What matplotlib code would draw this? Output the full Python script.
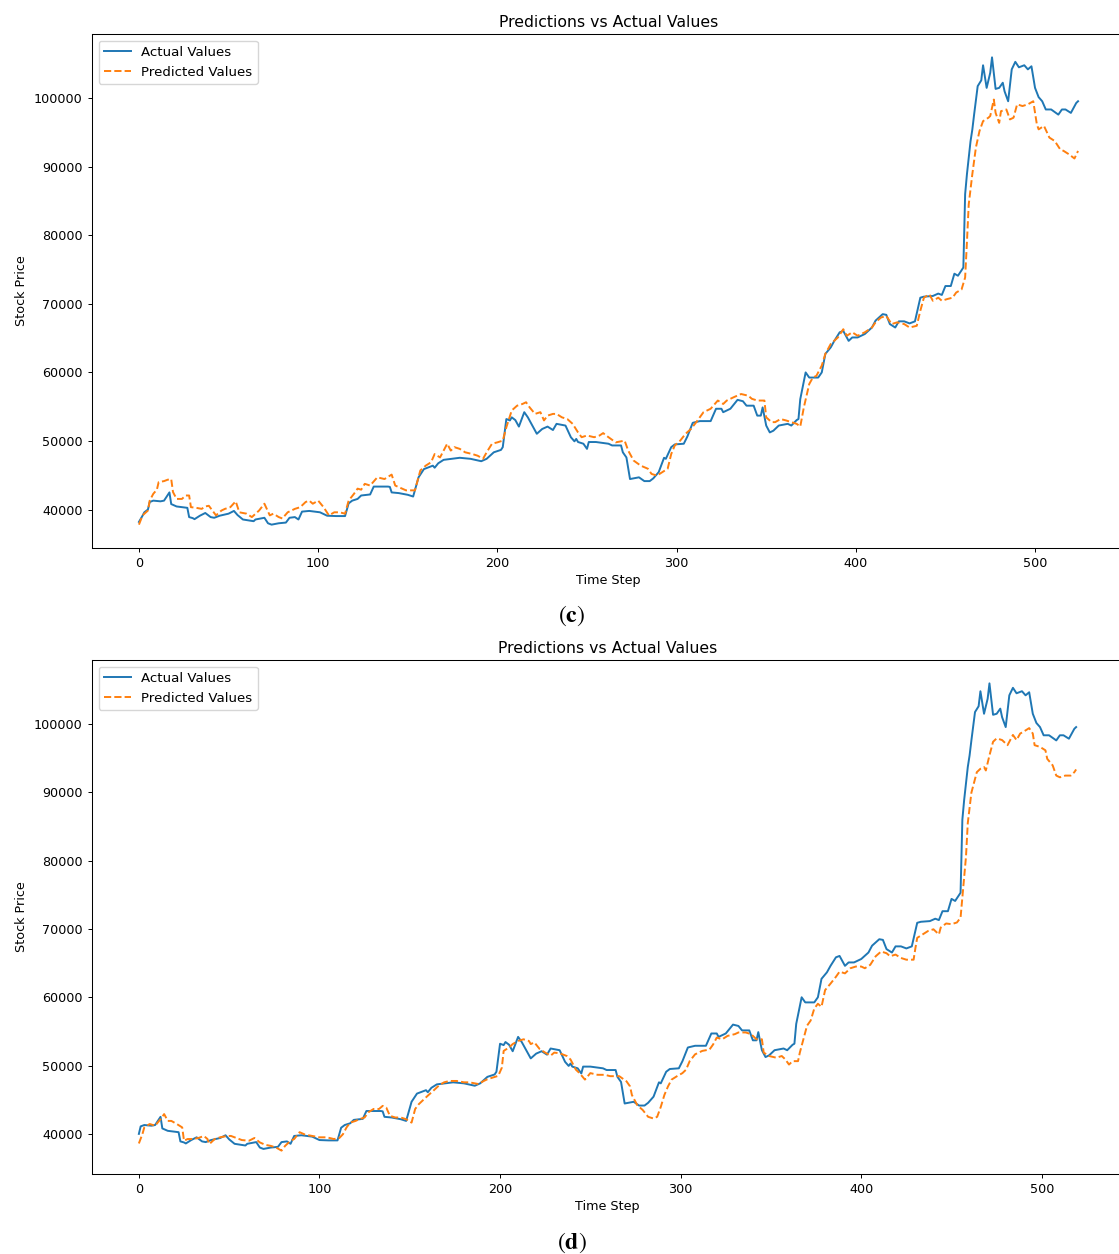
import numpy as np
import matplotlib
matplotlib.use("Agg")
import matplotlib.pyplot as plt

# ---- data -------------------------------------------------------------
# Actual closing prices (time step, price) for the longer test window (c)
actual_points = [
    (0, 38200), (2, 39100), (3, 39600), (5, 40000), (6, 41100), (8, 41300),
    (12, 41200), (14, 41300), (17, 42500), (18, 40800), (21, 40450),
    (27, 40250), (28, 38900), (30, 38750), (31, 38600), (34, 39100),
    (37, 39500), (40, 38900), (42, 38800), (45, 39100), (50, 39400),
    (53, 39800), (55, 39200), (58, 38550), (64, 38300), (65, 38550),
    (70, 38800), (72, 38000), (74, 37800), (78, 38000), (82, 38100),
    (84, 38800), (87, 38900), (89, 38550), (91, 39700), (95, 39800),
    (101, 39600), (105, 39100), (110, 39050), (115, 39050), (117, 40900),
    (119, 41300), (122, 41550), (124, 42050), (129, 42200), (131, 43350),
    (139, 43350), (140, 43300), (141, 42500), (145, 42400), (150, 42150),
    (153, 41900), (156, 44700), (159, 45900), (162, 46200), (164, 46400),
    (165, 46100), (167, 46750), (170, 47250), (179, 47550), (185, 47400),
    (191, 47050), (194, 47400), (198, 48350), (202, 48700), (203, 49100),
    (205, 53200), (207, 53000), (208, 53450), (210, 53050), (212, 52100),
    (215, 54200), (217, 53450), (222, 51050), (225, 51750), (228, 52100),
    (231, 51600), (233, 52500), (238, 52250), (241, 50550), (243, 49950),
    (244, 50300), (245, 49850), (248, 49600), (250, 48850), (251, 49850),
    (255, 49850), (262, 49600), (264, 49350), (269, 49350), (270, 48350),
    (272, 47600), (274, 44450), (279, 44700), (282, 44150), (285, 44150),
    (287, 44550), (290, 45450), (293, 47550), (294, 47400), (297, 49100),
    (299, 49500), (304, 49600), (306, 50650), (309, 52650), (313, 52900),
    (319, 52900), (322, 54700), (325, 54700), (326, 54200), (330, 54700),
    (334, 56000), (337, 55800), (339, 55150), (343, 55150), (345, 53700),
    (347, 53700), (348, 54900), (350, 52250), (352, 51250), (354, 51500),
    (357, 52250), (362, 52500), (364, 52250), (367, 53050), (368, 53200),
    (369, 56100), (372, 60000), (374, 59250), (379, 59250), (381, 60000),
    (383, 62700), (386, 63650), (388, 64600), (391, 65850), (393, 66050),
    (396, 64600), (398, 65100), (401, 65100), (405, 65600), (409, 66550),
    (411, 67550), (415, 68500), (417, 68400), (419, 67050), (422, 66550),
    (424, 67450), (427, 67450), (430, 67150), (433, 67450), (436, 70900),
    (438, 71050), (443, 71150), (446, 71500), (448, 71300), (450, 72600),
    (453, 72600), (455, 74400), (457, 74100), (459, 74900), (460, 75300),
    (461, 86000), (462, 88900), (464, 93700), (465, 95400), (466, 97600),
    (468, 101750), (470, 102600), (471, 104800), (473, 101500), (475, 103700),
    (476, 105950), (478, 101350), (480, 101500), (482, 102250), (483, 101000),
    (485, 99550), (487, 104200), (489, 105300), (491, 104500), (494, 104800),
    (496, 104200), (498, 104650), (500, 101500), (502, 100150), (504, 99550),
    (506, 98350), (509, 98350), (513, 97600), (515, 98350), (517, 98350),
    (520, 97850), (523, 99300), (524, 99550),
]

# Model predictions for window (c)
pred_c_points = [
    (0, 37800), (2, 39150), (5, 39850), (6, 41300), (8, 42300), (10, 42900),
    (11, 44000), (14, 44150), (16, 44350), (18, 44450), (19, 42550),
    (21, 41550), (24, 41550), (26, 42050), (28, 42050), (29, 40350),
    (32, 40250), (35, 40100), (37, 40450), (39, 40550), (43, 39150),
    (46, 39850), (48, 40100), (51, 40350), (54, 41200), (56, 39600),
    (60, 39400), (63, 38900), (67, 39850), (70, 40850), (73, 39150),
    (75, 39400), (78, 38900), (80, 38700), (83, 39600), (85, 39850),
    (87, 40100), (90, 40350), (93, 41100), (95, 41300), (97, 40850),
    (100, 41300), (103, 40350), (106, 39150), (109, 39600), (112, 39600),
    (115, 39400), (117, 41300), (120, 42300), (122, 43050), (124, 42900),
    (126, 43750), (129, 43500), (133, 44700), (137, 44450), (141, 45100),
    (143, 43500), (146, 43150), (149, 42800), (154, 42800), (157, 45700),
    (160, 46400), (163, 46900), (165, 48100), (168, 47600), (172, 49600),
    (174, 48600), (176, 49100), (179, 48850), (182, 48350), (186, 48100),
    (189, 47850), (192, 47400), (194, 48350), (197, 49600), (200, 49800),
    (203, 50050), (205, 52000), (208, 54450), (211, 55150), (214, 55400),
    (216, 55650), (218, 54900), (221, 53950), (224, 54200), (226, 53000),
    (228, 53700), (231, 53950), (233, 53950), (236, 53450), (239, 53200),
    (242, 52500), (245, 51250), (247, 50550), (250, 50800), (254, 50550),
    (257, 50800), (259, 51150), (262, 50550), (266, 49800), (269, 49950),
    (271, 50050), (273, 48600), (276, 47150), (280, 46400), (284, 45950),
    (286, 45200), (289, 44950), (292, 45450), (295, 45950), (297, 48100),
    (299, 49350), (302, 50050), (305, 51050), (308, 51750), (311, 52750),
    (315, 54200), (319, 54700), (323, 55900), (326, 55400), (328, 55900),
    (332, 56400), (336, 56850), (340, 56600), (342, 56150), (345, 55900),
    (349, 55900), (350, 53450), (353, 52750), (355, 52750), (358, 53200),
    (361, 53000), (364, 52750), (367, 52500), (369, 52100), (371, 54900),
    (374, 58300), (376, 59250), (378, 59500), (381, 61000), (383, 62700),
    (386, 64150), (390, 65100), (393, 66300), (395, 65350), (398, 65850),
    (401, 65350), (405, 65850), (409, 66550), (411, 67300), (414, 68000),
    (417, 68250), (420, 67050), (423, 67300), (427, 67050), (430, 66550),
    (434, 66800), (436, 69000), (438, 70900), (441, 71400), (443, 70450),
    (446, 70900), (448, 70450), (451, 70700), (454, 70900), (456, 71650),
    (459, 72100), (461, 73850), (462, 79000), (463, 84500), (465, 88900),
    (467, 92800), (469, 95200), (471, 96650), (474, 97150), (475, 97400),
    (477, 99800), (478, 97850), (480, 96400), (481, 98100), (484, 98350),
    (486, 96900), (488, 97150), (490, 99100), (493, 98850), (496, 99100),
    (499, 99550), (501, 96200), (502, 95450), (505, 95950), (508, 94250),
    (511, 93750), (514, 92550), (516, 92300), (519, 91800), (522, 91200),
    (524, 92300),
]

# Model predictions for window (d)
pred_d_points = [
    (0, 38600), (2, 40000), (3, 40950), (6, 41450), (9, 41200), (12, 42150),
    (14, 42900), (16, 41900), (18, 41900), (21, 41450), (24, 40950),
    (25, 39000), (27, 39250), (30, 39250), (33, 39400), (36, 39700),
    (38, 39250), (39, 38500), (42, 39250), (45, 39500), (49, 39700),
    (51, 39700), (54, 39400), (57, 39100), (61, 39000), (64, 39400),
    (67, 38750), (70, 38400), (73, 38250), (76, 38000), (79, 37550),
    (81, 38250), (84, 39000), (86, 39250), (89, 40250), (92, 39900),
    (96, 39700), (100, 39500), (104, 39500), (108, 39250), (111, 39400),
    (113, 39950), (115, 40950), (117, 41650), (120, 41900), (122, 42150),
    (125, 42400), (127, 43150), (130, 43650), (133, 43650), (135, 44100),
    (137, 43850), (139, 42650), (142, 42400), (145, 42400), (148, 42150),
    (151, 41650), (153, 43650), (155, 44350), (157, 44850), (160, 45600),
    (163, 46300), (166, 47050), (169, 47550), (172, 47750), (176, 47750),
    (180, 47550), (183, 47550), (188, 47300), (191, 47750), (193, 48000),
    (196, 48250), (199, 48500), (201, 49700), (202, 52150), (205, 52650),
    (207, 53150), (210, 53600), (213, 53850), (216, 53600), (217, 53150),
    (219, 53400), (222, 52400), (225, 51900), (228, 51450), (230, 51900),
    (233, 51800), (237, 51400), (239, 50900), (242, 49400), (244, 48900),
    (247, 47950), (250, 48900), (254, 48650), (258, 48650), (261, 48450),
    (266, 48450), (270, 47700), (272, 46950), (273, 45700), (276, 44200),
    (279, 43500), (282, 42500), (285, 42250), (287, 42500), (289, 43950),
    (291, 45700), (293, 46950), (295, 47950), (298, 48450), (301, 48900),
    (303, 49400), (305, 50650), (308, 51650), (312, 52150), (316, 52350),
    (318, 53100), (320, 54100), (323, 53850), (326, 54350), (330, 54600),
    (332, 54850), (336, 54850), (339, 54600), (342, 53850), (345, 53850),
    (346, 51900), (349, 51400), (353, 51150), (356, 51400), (358, 50900),
    (360, 50150), (362, 50650), (365, 50650), (366, 51900), (368, 53850),
    (370, 55850), (372, 56600), (374, 58350), (376, 59050), (378, 58600),
    (380, 61050), (383, 62000), (386, 63000), (388, 63750), (391, 63500),
    (394, 64250), (397, 64500), (400, 64500), (402, 64250), (405, 64750),
    (408, 66000), (411, 66700), (414, 66450), (416, 66000), (419, 66250),
    (422, 65750), (425, 65500), (429, 65500), (430, 67200), (431, 68700),
    (434, 69200), (437, 69700), (440, 69950), (443, 69200), (444, 70200),
    (447, 70800), (450, 70700), (453, 70950), (455, 71650), (456, 74650),
    (458, 80550), (459, 85500), (461, 89950), (464, 92950), (466, 93450),
    (468, 93700), (469, 93200), (471, 95400), (473, 97400), (475, 97900),
    (478, 97650), (481, 96900), (484, 98400), (486, 97650), (488, 98600),
    (490, 98900), (493, 99400), (495, 98600), (496, 96900), (499, 96650),
    (502, 96150), (503, 94900), (506, 93950), (508, 92450), (510, 92200),
    (513, 92450), (516, 92450), (518, 92950), (519, 93350),
]

# Window (d) uses a longer look-back, so its first target is 5 steps later
lag_d = 5

panel_letters = ["c", "d"]
title_text = "Predictions vs Actual Values"


def unzip(points):
    arr = np.array(points, dtype=float)
    return arr[:, 0], arr[:, 1]


act_t, act_v = unzip(actual_points)
pc_t, pc_v = unzip(pred_c_points)
pd_t, pd_v = unzip(pred_d_points)

keep = act_t >= lag_d
act_d_t, act_d_v = act_t[keep] - lag_d, act_v[keep]

series = [
    (act_t, act_v, pc_t, pc_v),
    (act_d_t, act_d_v, pd_t, pd_v),
]

# ---- figure -----------------------------------------------------------
plt.rcParams["mathtext.fontset"] = "stix"
W, H = 1119, 1254
fig = plt.figure(figsize=(W / 100, H / 100), dpi=100)

# axes boxes in pixels: left, top, right, bottom (right edge runs off the canvas)
boxes = [(92, 34, 1125, 548), (92, 660, 1123, 1174)]
letter_y = [616, 1243]

for (l, t, r, b), (at, av, pt, pv), letter, ly in zip(boxes, series, panel_letters, letter_y):
    ax = fig.add_axes([l / W, 1 - b / H, (r - l) / W, (b - t) / H])
    ax.plot(at, av, color="#1f77b4", lw=1.4, label="Actual Values")
    ax.plot(pt, pv, color="#ff7f0e", lw=1.4, ls="--", label="Predicted Values")
    ax.set_title(title_text, fontsize=11.3, pad=5)
    ax.set_xlabel("Time Step", fontsize=9.2, labelpad=3)
    ax.set_ylabel("Stock Price", fontsize=9.2, labelpad=4)
    ax.tick_params(labelsize=9.2, length=3.2, width=0.7)
    for s in ax.spines.values():
        s.set_linewidth(0.75)
    ax.legend(loc="upper left", fontsize=9.6, handlelength=2.0)
    fig.text(572 / W, 1 - ly / H, r"($\mathbf{" + letter + "}$)",
             ha="center", va="center", fontsize=17, fontfamily="STIXGeneral")

fig.savefig("out.png", dpi=100)
